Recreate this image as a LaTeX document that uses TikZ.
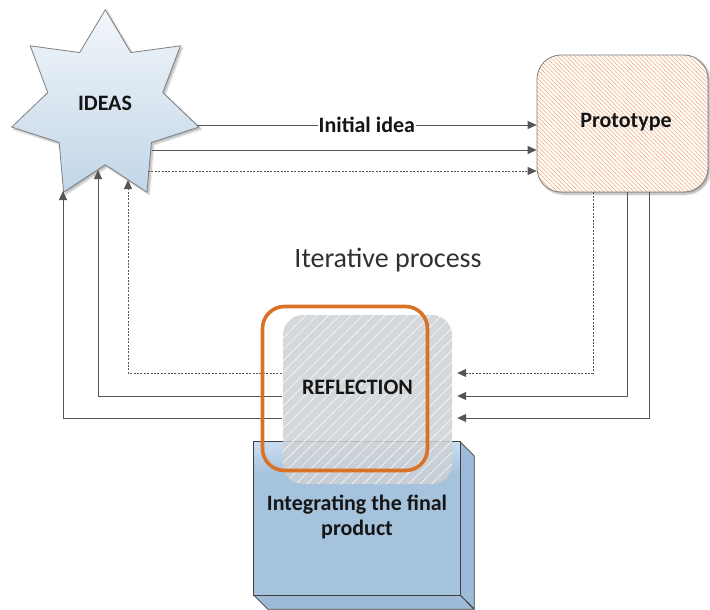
\documentclass[tikz,border=0pt]{standalone}
\usepackage{fontspec}
\setmainfont{Carlito}
\usetikzlibrary{arrows.meta,patterns.meta,shadows.blur,calc}

\definecolor{lineGray}{HTML}{555555}
\definecolor{edgeGray}{HTML}{7F7F7F}
\definecolor{starTop}{HTML}{F2F6FA}
\definecolor{starBottom}{HTML}{C2D6E8}
\definecolor{protoHatch}{HTML}{F4B58A}
\definecolor{reflGray}{HTML}{CED1D5}
\definecolor{frameOrange}{HTML}{D97126}
\definecolor{boxBlue}{HTML}{A6C3DE}
\definecolor{boxBlueSide}{HTML}{9DBBD8}
\definecolor{boxBlueLight}{HTML}{CADDF0}
\definecolor{boxEdge}{HTML}{404040}
\definecolor{textBlack}{HTML}{151515}
\definecolor{textDark}{HTML}{303030}

\begin{document}
\begin{tikzpicture}[x=1pt,y=-1pt,
  arr/.style={draw=lineGray, line width=0.9pt, -{Triangle[length=9pt,width=8pt]}},
  dotline/.style={dash pattern=on 2pt off 1.4pt},
  lbl/.style={font=\bfseries\fontsize{22}{25}\selectfont, text=textBlack, align=center},
  protobox/.style={rectangle, draw=edgeGray, line width=0.8pt, rounded corners=24pt,
    minimum width=171pt, minimum height=137pt,
    blur shadow={shadow xshift=2pt, shadow yshift=-2pt, shadow opacity=35, shadow blur steps=6},
    preaction={fill=white},
    pattern={Lines[angle=-45,distance=3pt,line width=0.7pt]}, pattern color=protoHatch},
  reflshape/.style={rectangle, rounded corners=20pt, minimum width=169pt, minimum height=169pt},
  reflbox/.style={reflshape, fill=reflGray, fill opacity=0.85,
    postaction={pattern={Lines[angle=45,distance=8pt,line width=0.5pt]}, pattern color=white, fill opacity=0.3}},
  framebox/.style={rectangle, draw=frameOrange, line width=3.6pt, rounded corners=22pt,
    minimum width=165pt, minimum height=164pt},
  frontbox/.style={rectangle, minimum width=206pt, minimum height=153pt, inner sep=0pt}
]
\useasboundingbox (0,0) rectangle (710,610);

% seven-pointed star
\begin{scope}[shift={(105.3,105.7)}]
  \path[draw=edgeGray, line width=0.8pt, top color=starTop, bottom color=starBottom,
        blur shadow={shadow xshift=2pt, shadow yshift=-2pt, shadow opacity=30, shadow blur steps=6}]
    (-90:96) \foreach \k in {0,...,6}{ -- ({-90+\k*360/7}:96) -- ({-90+\k*360/7+180/7}:59) } -- cycle;
\end{scope}
\node[lbl] (ideas) at (105,103) {IDEAS};

% attachment points on the star outline
\coordinate (ideasE) at (197,125);
\coordinate (ideasA) at (152,150);
\coordinate (ideasB) at (148,171);
\coordinate (ideasL1) at (63,191);
\coordinate (ideasL2) at (98,170);
\coordinate (ideasL3) at (128,180);

% prototype
\node[protobox] (proto) at (622.5,123.5) {};
\node[lbl] (protoText) at (626,122) {Prototype};

% star -> prototype
\draw[arr] (ideasE) -- (ideasE -| proto.west)
  node[midway, lbl, fill=white, inner sep=1pt] (initial) {Initial idea};
\draw[arr] (ideasA) -- (ideasA -| proto.west);
\draw[arr, dotline] (ideasB) -- (ideasB -| proto.west);

\node[font=\fontsize{28}{32}\selectfont, text=textDark] (iter) at (388,260) {Iterative process};

% integrating box (extruded)
\node[frontbox] (final) at (357,518.5) {};
\fill[boxBlueSide, draw=boxEdge, line width=0.8pt]
  (final.north east) -- ++(14,14) -- ++(0,153) -- (final.south east) -- cycle;
\fill[boxBlueSide, draw=boxEdge, line width=0.8pt]
  (final.south west) -- ++(14,14) -- ++(206,0) -- (final.south east) -- cycle;
\fill[boxBlue] (final.north west) rectangle (final.south east);
\shade[top color=boxBlueLight, bottom color=boxBlue]
  (final.north west) rectangle ([yshift=-32pt]final.north east);
\draw[boxEdge, line width=0.8pt] (final.north west) rectangle (final.south east);

% outline of the reflection box, used for anchoring the lines
\node[reflshape] (refl) at (367.5,399.5) {};
\coordinate (reflR) at ([xshift=5pt]refl.east);

% feedback lines from the reflection back to the star
\draw[arr] ([xshift=-1pt]refl.west |- 0,418) -| (ideasL1);
\draw[arr] ([xshift=-1pt]refl.west |- 0,396) -| (ideasL2);
\draw[arr, dotline] ([xshift=-1pt]refl.west |- 0,373) -| (ideasL3);

% prototype -> reflection
\draw[arr, dotline] ([xshift=-29.5pt]proto.south) |- (reflR |- 0,373);
\draw[arr] ([xshift=4.5pt]proto.south) |- (reflR |- 0,396);
\draw[arr] ([xshift=26.5pt]proto.south) |- (reflR |- 0,418);

% translucent reflection box on top of the lines
\node[reflbox] (reflFill) at (refl.center) {};

\node[framebox] (frame) at (345,388.5) {};

\node[lbl] (reflText) at (357.5,387) {REFLECTION};
\node[lbl] (finalText) at (357,517) {Integrating the final\\product};
\end{tikzpicture}
\end{document}
